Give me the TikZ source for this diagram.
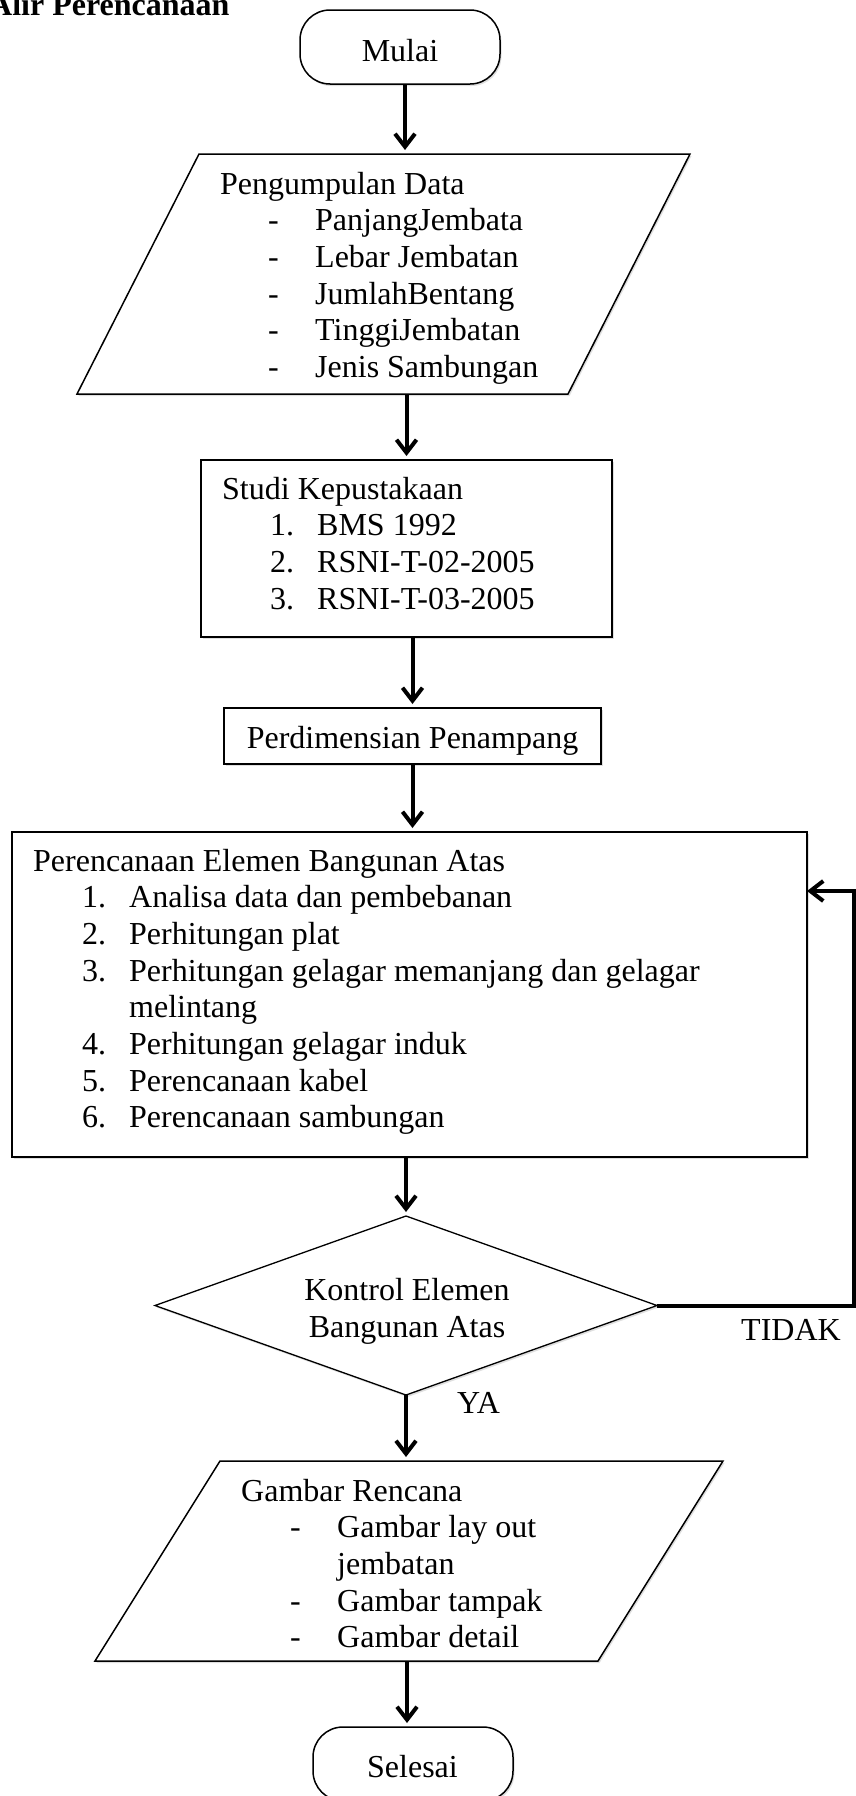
\documentclass[tikz,border=0pt]{standalone}
\usepackage{fontspec}
\setmainfont{Liberation Serif}
\usetikzlibrary{arrows.meta,shadows,calc}
\begin{document}
\begin{tikzpicture}[x=1pt,y=-1pt,
  frame/.style={draw=black, line width=1.5pt, fill=white,
    drop shadow={shadow xshift=1.5pt, shadow yshift=-2pt, opacity=0.25}},
  holder/.style={inner sep=0pt, outer sep=0pt},
  txt/.style={inner sep=0pt, anchor=base west, font=\fontsize{32pt}{36.7pt}\selectfont},
  ctxt/.style={txt, anchor=base},
  flow/.style={line width=4pt, -{Straight Barb[length=13pt,width=20pt]}, shorten >=4pt},
  loopflow/.style={line width=4pt, -{Straight Barb[length=13pt,width=20pt]}}
]
\path[use as bounding box, fill=white] (0,0) rectangle (855,1796);

% title
\node[txt, font=\bfseries\fontsize{32pt}{36.7pt}\selectfont] (title) at (-11,15) {Alir Perencanaan};

% shapes
\node[frame, holder, rounded corners=30pt, minimum width=200pt, minimum height=74pt] (mulai) at (400,47) {};
\node[holder, minimum width=613pt, minimum height=240pt] (data) at (383.5,274) {};
\draw[frame] ([xshift=122pt]data.north west) -- (data.north east) -- ([xshift=-122pt]data.south east) -- (data.south west) -- cycle;
\node[frame, holder, minimum width=411pt, minimum height=177pt] (studi) at (406.5,548.5) {};
\node[frame, holder, minimum width=377pt, minimum height=56pt] (perd) at (412.5,736) {};
\node[frame, holder, minimum width=795pt, minimum height=325pt] (peren) at (409.5,994.5) {};
\node[holder, minimum width=502pt, minimum height=179pt] (kontrol) at (406,1305.5) {};
\draw[frame, line width=1.3pt] (kontrol.north) -- (kontrol.east) -- (kontrol.south) -- (kontrol.west) -- cycle;
\node[holder, minimum width=628pt, minimum height=200pt] (gambar) at (409,1561) {};
\draw[frame] ([xshift=125pt]gambar.north west) -- (gambar.north east) -- ([xshift=-125pt]gambar.south east) -- (gambar.south west) -- cycle;
\node[frame, holder, rounded corners=30pt, minimum width=200pt, minimum height=74pt] (selesai) at (413,1764) {};

% texts
\node[ctxt] (mulaiT) at (400,61) {Mulai};

\node[txt] (dataH) at (220,194) {Pengumpulan Data};
\foreach \t [count=\i] in {PanjangJembata,Lebar Jembatan,JumlahBentang,TinggiJembatan,Jenis Sambungan}{
  \node[txt] (dataD\i) at (268,{194+36.7*\i}) {-};
  \node[txt] (dataT\i) at (315,{194+36.7*\i}) {\t};
}

\node[txt] (studiH) at (222,499) {Studi Kepustakaan};
\foreach \t [count=\i] in {BMS 1992,RSNI-T-02-2005,RSNI-T-03-2005}{
  \node[txt] (studiN\i) at (270,{499+36.7*\i}) {\i.};
  \node[txt] (studiT\i) at (317,{499+36.7*\i}) {\t};
}

\node[ctxt] (perdT) at (412.5,748) {Perdimensian Penampang};

\node[txt] (perenH) at (33,871) {Perencanaan Elemen Bangunan Atas};
\node[txt] (perenN1) at (82,907.7) {1.};
\node[txt] (perenT1) at (129,907.7) {Analisa data dan pembebanan};
\node[txt] (perenN2) at (82,944.4) {2.};
\node[txt] (perenT2) at (129,944.4) {Perhitungan plat};
\node[txt] (perenN3) at (82,981.1) {3.};
\node[txt] (perenT3) at (129,981.1) {Perhitungan gelagar memanjang dan gelagar};
\node[txt] (perenT3b) at (129,1017.8) {melintang};
\node[txt] (perenN4) at (82,1054.5) {4.};
\node[txt] (perenT4) at (129,1054.5) {Perhitungan gelagar induk};
\node[txt] (perenN5) at (82,1091.2) {5.};
\node[txt] (perenT5) at (129,1091.2) {Perencanaan kabel};
\node[txt] (perenN6) at (82,1127.9) {6.};
\node[txt] (perenT6) at (129,1127.9) {Perencanaan sambungan};

\node[ctxt] (kontrolT1) at (407,1300) {Kontrol Elemen};
\node[ctxt] (kontrolT2) at (407,1337) {Bangunan Atas};
\node[txt] (tidak) at (741,1340) {TIDAK};
\node[txt] (ya) at (457,1413) {YA};

\node[txt] (gamH) at (241,1501) {Gambar Rencana};
\node[txt] (gamD1) at (290,1537.7) {-};
\node[txt] (gamT1) at (337,1537.7) {Gambar lay out};
\node[txt] (gamT1b) at (337,1574.4) {jembatan};
\node[txt] (gamD2) at (290,1611.1) {-};
\node[txt] (gamT2) at (337,1611.1) {Gambar tampak};
\node[txt] (gamD3) at (290,1647.8) {-};
\node[txt] (gamT3) at (337,1647.8) {Gambar detail};

\node[ctxt] (selesaiT) at (412.5,1777) {Selesai};

% connectors
\draw[flow] ([xshift=5pt]mulai.south) -- ([xshift=5pt]mulai.south |- data.north);
\draw[flow] (studi.north |- data.south) -- (studi.north);
\draw[flow] (perd.north |- studi.south) -- (perd.north);
\draw[flow] (perd.south) -- (perd.south |- peren.north);
\draw[flow] (kontrol.north |- peren.south) -- (kontrol.north);
\draw[flow] (kontrol.south) -- (kontrol.south |- gambar.north);
\draw[flow] ([xshift=-6pt]selesai.north |- gambar.south) -- ([xshift=-6pt]selesai.north);
\coordinate (loopc) at (854,891);
\draw[loopflow] (kontrol.east) -| (loopc) -- (loopc -| peren.east);
\end{tikzpicture}
\end{document}
